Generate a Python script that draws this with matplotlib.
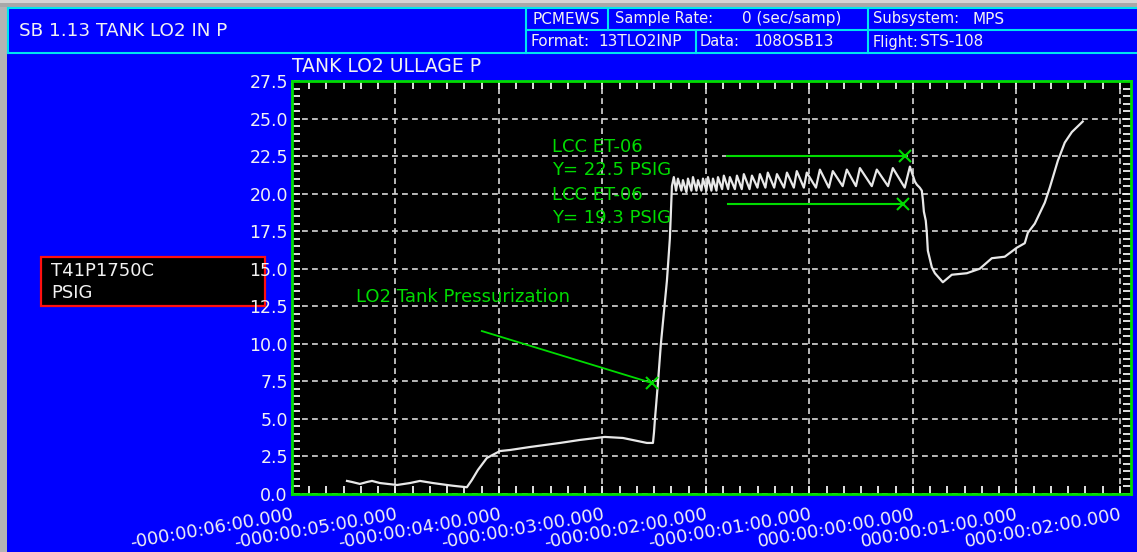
import matplotlib
matplotlib.use("Agg")
import matplotlib.pyplot as plt
from matplotlib.patches import Rectangle
from matplotlib.lines import Line2D
from matplotlib.ticker import MultipleLocator

W, H = 1137, 552
BLUE = "#0000ff"
CYAN = "#00e4f0"
GREEN = "#00dc00"
WHITE = "#f2f2f2"
CURVE = "#e8e8e8"

# ---- data (time in seconds relative to T0, pressure in psig) ----
idle_t = [-328.1, -325.2, -320.6, -316.5, -313.6, -309.0, -299.1, -291.6,
          -285.8, -278.3, -270.1, -266.7, -258.6]
idle_p = [0.87, 0.80, 0.67, 0.80, 0.87, 0.73, 0.60, 0.73,
          0.87, 0.73, 0.60, 0.55, 0.45]

prepress_t = [-255.7, -252.2, -247.0, -239.4, -233.6, -222.0, -204.6, -193.0,
              -178.6, -168.1, -154.2, -150.7]
prepress_p = [0.93, 1.6, 2.4, 2.86, 2.93, 3.13, 3.4, 3.6,
              3.8, 3.73, 3.4, 3.4]

rise_t = [-150.1, -149.6, -147.8, -146.1, -142.6, -140.9, -139.7]
rise_p = [4.1, 4.9, 7.4, 10.0, 14.2, 17.0, 20.5]

flight_t = [-138.6, -137.3, -136.2, -134.2, -133.3, -131.3, -130.4, -128.4,
            -127.5, -125.5, -124.6, -122.6, -121.7, -119.7, -118.8, -116.8,
            -115.9, -113.9, -113.0, -110.6, -109.6, -107.1, -106.1, -103.2,
            -102.0, -99.2, -98.0, -94.7, -93.3, -90.1, -88.7, -85.5,
            -84.1, -80.4, -78.8, -74.7, -73.0, -69.0, -67.3, -63.2,
            -61.5, -56.2, -53.9, -48.7, -46.4, -40.7, -38.3, -33.0,
            -30.7, -23.8, -20.9, -14.4, -11.6, -4.7, -1.7]
flight_p = [21.1, 20.2, 21.0, 20.2, 20.9, 20.1, 21.0, 20.2,
            21.1, 20.2, 20.9, 20.2, 21.0, 20.2, 21.1, 20.2,
            21.0, 20.2, 21.1, 20.3, 21.2, 20.3, 21.1, 20.3,
            21.2, 20.3, 21.3, 20.3, 21.2, 20.4, 21.3, 20.4,
            21.4, 20.4, 21.3, 20.4, 21.4, 20.4, 21.5, 20.4,
            21.4, 20.4, 21.6, 20.4, 21.5, 20.5, 21.6, 20.5,
            21.7, 20.5, 21.6, 20.5, 21.7, 20.4, 21.8]

tail_t = [1.2, 2.3, 4.0, 5.2, 5.8, 6.4, 7.5, 8.1, 8.7, 11.0, 12.8, 17.4,
          22.6, 31.3, 38.8, 45.8, 53.3, 60.3, 64.9, 66.7, 70.7, 76.5, 79.4,
          84.1, 88.1, 92.2, 98.5]
tail_p = [20.8, 20.6, 20.4, 20.2, 19.6, 18.8, 18.2, 17.4, 16.2, 15.1, 14.7, 14.1,
          14.6, 14.7, 15.0, 15.7, 15.8, 16.4, 16.7, 17.4, 18.0, 19.4, 20.4,
          22.2, 23.4, 24.1, 24.8]

time_s = idle_t + prepress_t + rise_t + flight_t + tail_t
press_psig = idle_p + prepress_p + rise_p + flight_p + tail_p

lcc_limits = [22.5, 19.3]
lcc_span = [(-107.8, -4.6), (-107.3, -5.8)]
press_note_t = [-249.9, -151.3]
press_note_p = [10.85, 7.39]

x_ticks = [-360, -300, -240, -180, -120, -60, 0, 60, 120]
x_labels = ["-000:00:06:00.000", "-000:00:05:00.000", "-000:00:04:00.000",
            "-000:00:03:00.000", "-000:00:02:00.000", "-000:00:01:00.000",
            "000:00:00:00.000", "000:00:01:00.000", "000:00:02:00.000"]
y_ticks = [0.0, 2.5, 5.0, 7.5, 10.0, 12.5, 15.0, 17.5, 20.0, 22.5, 25.0, 27.5]


def fx(x):
    return x / W


def fy(y):
    return 1 - y / H


def hline(x0, x1, y, color=CYAN, lw=1.5):
    fig.add_artist(Line2D([fx(x0), fx(x1)], [fy(y), fy(y)], color=color, lw=lw))


def vline(x, y0, y1, color=CYAN, lw=1.5):
    fig.add_artist(Line2D([fx(x), fx(x)], [fy(y0), fy(y1)], color=color, lw=lw))


def label(x, y, s, size=11, color=WHITE):
    fig.text(fx(x), fy(y), s, color=color, fontsize=size, ha="left", va="center")


plt.rcParams["font.family"] = ["DejaVu Sans"]
fig = plt.figure(figsize=(W / 100, H / 100), dpi=100, facecolor=BLUE)

# window frame
fig.add_artist(Rectangle((0, 0), fx(7), 1, transform=fig.transFigure,
                         facecolor="#b4b4b4", edgecolor="none", zorder=-2))
fig.add_artist(Rectangle((0, fy(7)), 1, 7 / H, transform=fig.transFigure,
                         facecolor="#a8a8a8", edgecolor="none", zorder=-2))
fig.add_artist(Rectangle((0, fy(3)), 1, 3 / H, transform=fig.transFigure,
                         facecolor="#d4d4d4", edgecolor="none", zorder=-2))

# header
hline(8, W, 8)
hline(8, W, 53)
vline(8, 8, 53)
vline(526, 8, 53)
hline(526, W, 30)
vline(608, 8, 30)
vline(868, 8, 53)
vline(696, 30, 53)

label(19, 31, "SB 1.13 TANK LO2 IN P", size=13.2)
label(532, 19, "PCMEWS")
label(615, 19, "Sample Rate:", size=10.5)
label(742, 19, "0 (sec/samp)")
label(873, 19, "Subsystem:", size=10.5)
label(972, 19, "MPS")
label(531, 42, "Format:")
label(598, 42, "13TLO2INP")
label(700, 42, "Data:", size=10.5)
label(753, 42, "108OSB13")
label(873, 42, "Flight:", size=10.5)
label(920, 42, "STS-108")

label(292, 67, "TANK LO2 ULLAGE P", size=13.5)

# measurement id box
fig.add_artist(Rectangle((fx(41), fy(306)), (265 - 41) / W, (306 - 257) / H,
                         transform=fig.transFigure, facecolor="black",
                         edgecolor="#ff1010", lw=1.6, zorder=-1))
label(51, 271, "T41P1750C", size=13)
label(51, 293, "PSIG", size=13)

# plot
ax = fig.add_axes([fx(292), fy(494), (1131 - 292) / W, (494 - 81) / H], facecolor="black")
ax.plot(time_s, press_psig, color=CURVE, lw=1.6, zorder=3)

ax.set_xlim(-360, 126.5)
ax.set_ylim(0, 27.5)
ax.set_xticks(x_ticks)
ax.set_xticklabels(x_labels, rotation=10, rotation_mode="anchor", ha="right", va="top",
                   fontsize=12.8)
ax.set_yticks(y_ticks)
ax.set_yticklabels([f"{v:.1f}" for v in y_ticks], fontsize=12.5)
ax.xaxis.set_minor_locator(MultipleLocator(10))
ax.yaxis.set_minor_locator(MultipleLocator(0.5))
ax.tick_params(which="both", direction="in", color=WHITE, length=6, width=1.3,
               top=True, right=True, labelcolor=WHITE)
ax.tick_params(axis="x", which="major", pad=8)
ax.tick_params(axis="y", which="major", pad=3)
ax.grid(True, which="major", color="#d8d8d8", lw=1.2, ls=(0, (3.5, 2.5)))
for s in ax.spines.values():
    s.set_color(GREEN)
    s.set_linewidth(2)

# annotations
for (t0, t1), lim in zip(lcc_span, lcc_limits):
    ax.plot([t0, t1], [lim, lim], color=GREEN, lw=1.5, zorder=4)
    ax.plot([t1], [lim], marker="x", color=GREEN, ms=8, mew=1.5, zorder=4)
ax.plot(press_note_t, press_note_p, color=GREEN, lw=1.3, zorder=4)
ax.plot(press_note_t[-1:], press_note_p[-1:], marker="x", color=GREEN, ms=8, mew=1.5, zorder=4)

note_kw = dict(color=GREEN, fontsize=13, va="center", zorder=5)
ax.text(-209.3, 23.1, "LCC ET-06", **note_kw)
ax.text(-209.3, 21.6, f"Y= {lcc_limits[0]} PSIG", **note_kw)
ax.text(-209.3, 19.9, "LCC ET-06", **note_kw)
ax.text(-209.3, 18.4, f"Y= {lcc_limits[1]} PSIG", **note_kw)
ax.text(-322.9, 13.1, "LO2 Tank Pressurization", **note_kw)

fig.savefig("out.png", dpi=100, facecolor=BLUE)
